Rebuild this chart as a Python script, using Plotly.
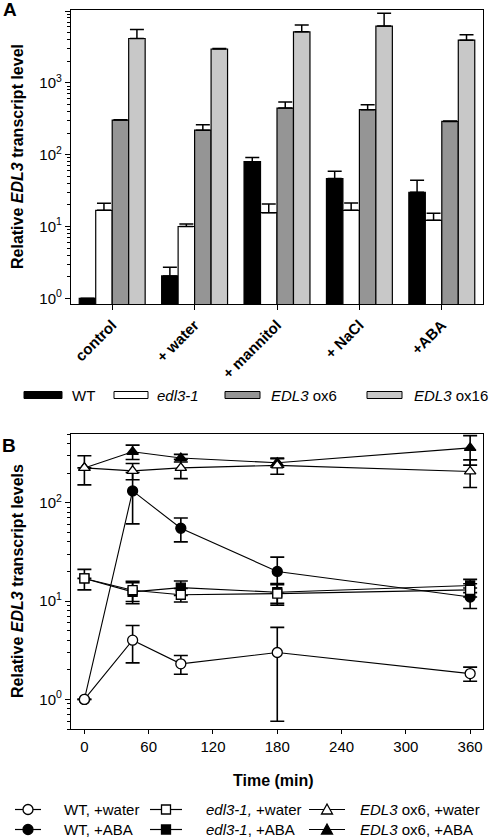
import plotly.graph_objects as go

# ---------------- data: panel A ----------------
categories = ["control", "+ water", "+ mannitol", "+ NaCl", "+ABA"]
wt_level = [1.0, 2.05, 80, 46.5, 30]
wt_err_top = [1.0, 2.7, 91, 59, 44]
edl_level = [16.8, 10.0, 15.6, 16.8, 12.2]
edl_err_top = [21, 10.8, 20.5, 21.2, 15.3]
ox6_level = [303, 219, 446, 423, 290]
ox6_err_top = [306, 260, 541, 497, 295]
ox16_level = [4140, 2960, 5130, 6165, 3920]
ox16_err_top = [5540, 3000, 6370, 9280, 4660]

# ---------------- data: panel B ----------------
time_min = [0, 45, 90, 180, 360]
wt_water = [1.0, 4.0, 2.3, 3.0, 1.83]
wt_water_sd = [0, 1.65, 0.5, 2.4, 0.3]
wt_aba = [1.0, 132, 55, 20, 11]
wt_aba_sd = [0, 71, 15, 8, 2.6]
edl_water = [17, 12.9, 11.6, 11.9, 13.0]
edl_water_sd = [4, 3, 1.8, 2.8, 2.0]
edl_aba = [17, 12.4, 13.7, 12.3, 14.4]
edl_aba_sd = [0, 3, 2.3, 2.8, 2.2]
ox6_water = [226, 211, 226, 240, 208]
ox6_water_sd = [74, 40, 50, 45, 65]
ox6_aba = [226, 330, 285, 255, 361]
ox6_aba_sd = [0, 55, 25, 25, 120]

FONT = "Liberation Sans, Arial, sans-serif"
W, H = 492, 837
ML, MR, MT, MB = 71, 9, 10, 108
PW, PH = W - ML - MR, H - MT - MB


def px_x(p):
    return (p - ML) / PW


def px_y(p):
    return (H - MB - p) / PH


fig = go.Figure()

bar_specs = [
    ("WT", wt_level, wt_err_top, "#000000"),
    ("edl3-1", edl_level, edl_err_top, "#ffffff"),
    ("EDL3 ox6", ox6_level, ox6_err_top, "#959595"),
    ("EDL3 ox16", ox16_level, ox16_err_top, "#c8c8c8"),
]
for name, vals, tops, col in bar_specs:
    fig.add_trace(go.Bar(
        x=categories, y=vals, name=name, showlegend=False,
        marker=dict(color=col, line=dict(color="black", width=1.2)),
        error_y=dict(type="data", symmetric=False,
                     array=[t - v for t, v in zip(tops, vals)],
                     arrayminus=[0] * len(vals),
                     color="black", thickness=1.5, width=7),
        xaxis="x", yaxis="y",
    ))

# panel B traces: ABA first (drawn below), water on top
line_specs = [
    ("WT, +ABA", wt_aba, wt_aba_sd, "circle", "black", 10),
    ("edl3-1, +ABA", edl_aba, edl_aba_sd, "square", "black", 9),
    ("EDL3 ox6, +ABA", ox6_aba, ox6_aba_sd, "triangle-up", "black", 10),
    ("WT, +water", wt_water, wt_water_sd, "circle", "white", 10),
    ("edl3-1, +water", edl_water, edl_water_sd, "square", "white", 9),
    ("EDL3 ox6, +water", ox6_water, ox6_water_sd, "triangle-up", "white", 10),
]
for name, vals, sd, sym, fill, size in line_specs:
    fig.add_trace(go.Scatter(
        x=time_min, y=vals, name=name, mode="lines+markers", showlegend=False,
        line=dict(color="black", width=1.1),
        marker=dict(symbol=sym, size=size, color=fill,
                    line=dict(color="black", width=1.3)),
        error_y=dict(type="data", array=sd, color="black", thickness=1.6, width=7),
        xaxis="x2", yaxis="y2",
    ))

axis_font = dict(family=FONT, size=15, color="black")


def minor_vals(lo, hi):
    out = []
    for k in range(lo, hi):
        for m in range(2, 10):
            out.append(m * 10 ** k)
    return out


top_dom = [px_y(304.3), 1.0]
bot_dom = [0.0, px_y(434)]

fig.update_layout(
    width=W, height=H,
    margin=dict(l=ML, r=MR, t=MT, b=MB),
    paper_bgcolor="white", plot_bgcolor="white",
    font=dict(family=FONT, size=15, color="black"),
    showlegend=False,
    barmode="group", bargap=0.2, bargroupgap=0,
    xaxis=dict(domain=[0, 1], anchor="y", type="category",
               showline=True, linecolor="black", linewidth=1.3, mirror=True,
               ticks="outside", ticklen=5, tickcolor="black", tickwidth=1.2,
               tickangle=-45,
               tickfont=dict(family=FONT, size=15, color="black", weight="bold"),
               showgrid=False, zeroline=False),
    yaxis=dict(domain=top_dom, anchor="x", type="log",
               range=[-0.083, 4.014],
               tickmode="array", tickvals=[1, 10, 100, 1000, 10000],
               ticktext=["10<sup>0</sup>", "10<sup>1</sup>", "10<sup>2</sup>",
                         "10<sup>3</sup>", "10<sup>4</sup>"],
               tickfont=axis_font,
               showline=True, linecolor="black", linewidth=1.3, mirror=True,
               ticks="outside", ticklen=5, tickcolor="black", tickwidth=1.2,
               minor=dict(ticks="outside", ticklen=3, tickcolor="black",
                          tickwidth=1, tickmode="array",
                          tickvals=minor_vals(0, 4), showgrid=False),
               showgrid=False, zeroline=False),
    xaxis2=dict(domain=[0, 1], anchor="y2", range=[-12.5, 372],
                tickmode="array", tickvals=[0, 60, 120, 180, 240, 300, 360],
                tickfont=axis_font,
                showline=True, linecolor="black", linewidth=1.3, mirror=True,
                ticks="outside", ticklen=4, tickcolor="black", tickwidth=1.2,
                showgrid=False, zeroline=False),
    yaxis2=dict(domain=bot_dom, anchor="x2", type="log",
                range=[-0.301, 2.699],
                tickmode="array", tickvals=[1, 10, 100],
                ticktext=["10<sup>0</sup>", "10<sup>1</sup>", "10<sup>2</sup>"],
                tickfont=axis_font,
                showline=True, linecolor="black", linewidth=1.3, mirror=True,
                ticks="outside", ticklen=5, tickcolor="black", tickwidth=1.2,
                minor=dict(ticks="outside", ticklen=3, tickcolor="black",
                           tickwidth=1, tickmode="array",
                           tickvals=[v for v in minor_vals(-1, 3) if 0.5 <= v <= 500],
                           showgrid=False),
                showgrid=False, zeroline=False),
)

annotations = [
    dict(text="<b>A</b>", x=px_x(1), y=px_y(9), xanchor="left", yanchor="middle",
         font=dict(size=19)),
    dict(text="<b>B</b>", x=px_x(0), y=px_y(445), xanchor="left", yanchor="middle",
         font=dict(size=19)),
    dict(text="<b>Relative <i>EDL3</i> transcript level</b>", textangle=-90,
         x=px_x(17), y=px_y(157), xanchor="center", yanchor="middle",
         font=dict(size=16)),
    dict(text="<b>Relative <i>EDL3</i> transcript levels</b>", textangle=-90,
         x=px_x(17), y=px_y(581), xanchor="center", yanchor="middle",
         font=dict(size=16)),
    dict(text="<b>Time (min)</b>", x=px_x(273), y=px_y(780),
         xanchor="center", yanchor="middle", font=dict(size=16)),
]

shapes = []
# ---- legend for panel A (swatches + labels) ----
legend_a = [
    ("#000000", 24, 62, "WT", 70),
    ("#ffffff", 114, 148, "<i>edl3-1</i>", 155),
    ("#959595", 225, 260, "<i>EDL3</i> ox6", 269),
    ("#c8c8c8", 367, 402, "<i>EDL3</i> ox16", 412),
]
for col, x0, x1, label, tx in legend_a:
    shapes.append(dict(type="rect", xref="paper", yref="paper",
                       x0=px_x(x0), x1=px_x(x1), y0=px_y(398.5), y1=px_y(391.5),
                       fillcolor=col, line=dict(color="black", width=1)))
    annotations.append(dict(text=label, x=px_x(tx), y=px_y(395),
                            xanchor="left", yanchor="middle",
                            font=dict(size=15)))

# ---- legend for panel B (line + symbol + label) ----
legend_b_cols = [  # line start, line end, symbol centre, text start
    (15, 41, 28, 62),
    (150, 182, 166, 204),
    (309, 345, 327, 358),
]
legend_b_rows = [809.5, 829.5]
legend_b_items = [
    (0, 0, "circle", "white", "WT, +water"),
    (0, 1, "square", "white", "<i>edl3-1,</i> +water"),
    (0, 2, "triangle", "white", "<i>EDL3</i> ox6, +water"),
    (1, 0, "circle", "black", "WT, +ABA"),
    (1, 1, "square", "black", "<i>edl3-1</i>, +ABA"),
    (1, 2, "triangle", "black", "<i>EDL3</i> ox6, +ABA"),
]
for r, c, sym, fill, label in legend_b_items:
    ly = legend_b_rows[r]
    lx0, lx1, cx, tx = legend_b_cols[c]
    shapes.append(dict(type="line", xref="paper", yref="paper",
                       x0=px_x(lx0), x1=px_x(lx1), y0=px_y(ly), y1=px_y(ly),
                       line=dict(color="black", width=1.2)))
    if sym == "circle":
        shapes.append(dict(type="circle", xref="paper", yref="paper",
                           x0=px_x(cx - 5), x1=px_x(cx + 5),
                           y0=px_y(ly + 5), y1=px_y(ly - 5),
                           fillcolor=fill, line=dict(color="black", width=1.3)))
    elif sym == "square":
        shapes.append(dict(type="rect", xref="paper", yref="paper",
                           x0=px_x(cx - 4.5), x1=px_x(cx + 4.5),
                           y0=px_y(ly + 4.5), y1=px_y(ly - 4.5),
                           fillcolor=fill, line=dict(color="black", width=1.3)))
    else:
        pts = [(cx - 5.5, ly + 4.5), (cx + 5.5, ly + 4.5), (cx, ly - 5.5)]
        path = "M " + " L ".join(f"{px_x(a):.5f},{px_y(b):.5f}" for a, b in pts) + " Z"
        shapes.append(dict(type="path", xref="paper", yref="paper", path=path,
                           fillcolor=fill, line=dict(color="black", width=1.3)))
    annotations.append(dict(text=label, x=px_x(tx), y=px_y(ly),
                            xanchor="left", yanchor="middle",
                            font=dict(size=15)))

for a in annotations:
    a.setdefault("xref", "paper")
    a.setdefault("yref", "paper")
    a.setdefault("showarrow", False)
    a["font"] = dict(family=FONT, color="black", **a["font"])

fig.update_layout(annotations=annotations, shapes=shapes)

fig.write_html(
    "out.html",
    config={"displayModeBar": False},
    post_script="document.body.style.margin='0';document.body.style.overflow='hidden';",
)
